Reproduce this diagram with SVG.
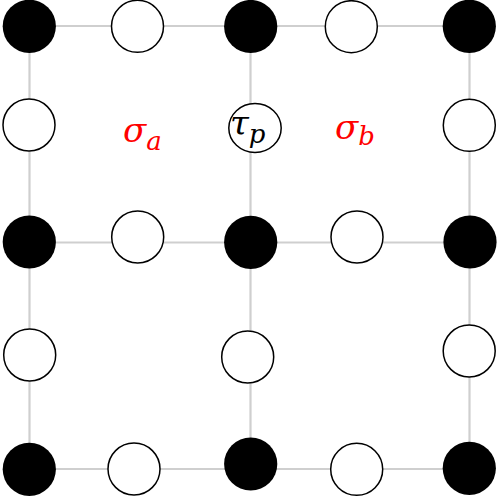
<svg xmlns="http://www.w3.org/2000/svg" width="498" height="497" viewBox="0 0 498 497">
<style>
.edge{stroke:#cfcfcf;stroke-width:2.2;fill:none}
.b{fill:#000}
.w{fill:#fff;stroke:#000;stroke-width:1.5}
.lbl{font-family:"DejaVu Serif",serif;font-style:italic}
.red{fill:#ff0000}
</style>
<rect width="498" height="497" fill="#fff"/>
<g id="connectors">
<line class="edge" x1="29.5" y1="26" x2="469.5" y2="26"/>
<line class="edge" x1="29.5" y1="242.5" x2="469.5" y2="242.5"/>
<line class="edge" x1="29.5" y1="469" x2="469.5" y2="469"/>
<line class="edge" x1="29.5" y1="26" x2="29.5" y2="469"/>
<line class="edge" x1="250.5" y1="26" x2="250.5" y2="469"/>
<line class="edge" x1="469.5" y1="26" x2="469.5" y2="469"/>
</g>
<g id="v00"><circle class="b" cx="29.3" cy="26.3" r="26.6"/></g>
<g id="v01"><circle class="b" cx="250.7" cy="26.5" r="26.6"/></g>
<g id="v02"><circle class="b" cx="469.3" cy="26.3" r="26.6"/></g>
<g id="v10"><circle class="b" cx="29.3" cy="242" r="26.6"/></g>
<g id="v11"><circle class="b" cx="250.7" cy="242.3" r="26.6"/></g>
<g id="v12"><circle class="b" cx="470" cy="242" r="26.6"/></g>
<g id="v20"><circle class="b" cx="29.3" cy="469.3" r="26.6"/></g>
<g id="v21"><circle class="b" cx="250.7" cy="464" r="26.6"/></g>
<g id="v22"><circle class="b" cx="469.3" cy="468.3" r="26.6"/></g>
<g id="e_h00"><circle class="w" cx="137.5" cy="26.3" r="26"/></g>
<g id="e_h01"><circle class="w" cx="351.3" cy="26.7" r="26"/></g>
<g id="e_h10"><circle class="w" cx="137.7" cy="237" r="26"/></g>
<g id="e_h11"><circle class="w" cx="357" cy="237" r="26"/></g>
<g id="e_h20"><circle class="w" cx="134" cy="469" r="26"/></g>
<g id="e_h21"><circle class="w" cx="356.7" cy="469.3" r="26"/></g>
<g id="e_v00"><circle class="w" cx="29" cy="125" r="26"/></g>
<g id="e_v02"><circle class="w" cx="469.3" cy="125.3" r="26"/></g>
<g id="e_v10"><circle class="w" cx="29.7" cy="355" r="26"/></g>
<g id="e_v11"><circle class="w" cx="247.7" cy="357" r="26"/></g>
<g id="e_v12"><circle class="w" cx="469.2" cy="351" r="26"/></g>
<g id="tau_p">
<ellipse class="w" cx="255" cy="128" rx="26.2" ry="24.5"/>
<text class="lbl" x="230" y="135" font-size="34">τ<tspan font-size="26" dy="8">p</tspan></text>
</g>
<g id="sigma_a"><text class="lbl red" x="123" y="141.5" font-size="34">σ<tspan font-size="26" dy="8.5">a</tspan></text></g>
<g id="sigma_b"><text class="lbl red" x="335" y="138.5" font-size="34">σ<tspan font-size="26" dy="6.5">b</tspan></text></g>
</svg>
